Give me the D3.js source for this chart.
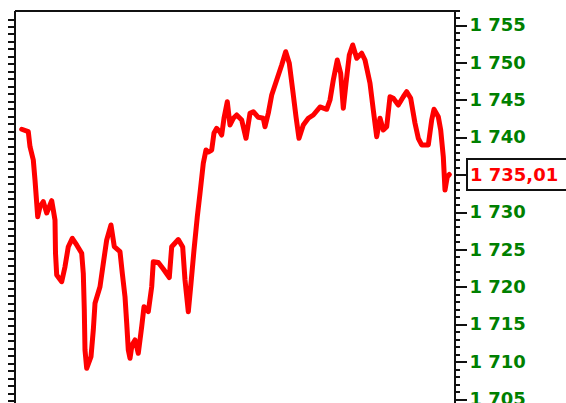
<!DOCTYPE html>
<html>
<head>
<meta charset="utf-8">
<script src="https://cdnjs.cloudflare.com/ajax/libs/d3/7.8.5/d3.min.js"></script>
<style>
  body { margin: 0; background: #fff; }
  svg { display: block; }
  .axis path, .axis line { stroke: #111; stroke-width: 2; shape-rendering: crispEdges; }
  .axis text { font-family: "DejaVu Sans", sans-serif; font-weight: bold; font-size: 18px; fill: #008000; }
</style>
</head>
<body>
<div id="chart"></div>
<script>
// Time of each reading (arbitrary session units)
var times = [0, 6.6, 8.3, 11.6, 13.3, 15, 16, 18.3, 21.6, 25, 30, 31.6, 33.3, 33.8, 35, 40, 43.3, 46.6, 50.6, 55,
  60, 61.6, 62.6, 63.3, 65, 69.3, 71.6, 73.3, 78.3, 81.6, 85, 89.3, 92.6, 98.3, 100.6, 103.3, 105, 106.6, 108.3, 110.3,
  113.3, 116.6, 120, 122.3, 126.6, 130, 131.6, 136.6, 141.6, 147.6, 150, 156.6, 161, 163.3, 166.6, 169.3, 172.3, 175.6, 178.3, 181.6,
  184.3, 186.6, 190, 192.3, 195, 198.3, 200, 202.3, 205.6, 208.3, 211.6, 215, 220, 224.3, 228.3, 231.6, 236.6, 241.6, 243.3, 246.6,
  250, 255, 260, 264, 267.6, 271, 274.3, 277.3, 281.6, 286.6, 291.6, 298.3, 305, 308.3, 311.6, 315.6, 319, 321.6, 324.3, 327.6,
  331, 335, 340, 343.3, 348.3, 351.6, 355, 358.3, 361.6, 365, 368.3, 371.6, 376.6, 381.6, 385, 389, 393.3, 396.6, 400, 406.6,
  410, 412.3, 416.6, 419, 421.6, 423.3, 425.6, 427.6];

// Price readings
var prices = [1741.06, 1740.74, 1738.73, 1736.95, 1734.28, 1731.20, 1729.37, 1730.71, 1731.38, 1729.87, 1731.51, 1730.27, 1728.93, 1724.52, 1721.58, 1720.68, 1722.69, 1725.36, 1726.48, 1725.59,
  1724.48, 1721.80, 1716.90, 1711.55, 1709.10, 1710.66, 1714.22, 1717.79, 1720.01, 1723.14, 1726.26, 1728.26, 1725.36, 1724.69, 1721.80, 1718.68, 1715.16, 1711.55, 1710.44, 1712.22,
  1712.89, 1711.11, 1714.67, 1717.34, 1716.67, 1720.01, 1723.36, 1723.25, 1722.38, 1721.24, 1725.36, 1726.32, 1725.32, 1720.91, 1716.67, 1720.47, 1724.92, 1729.37, 1732.50, 1736.51,
  1738.29, 1738.02, 1738.29, 1740.56, 1741.19, 1740.70, 1740.29, 1742.53, 1744.75, 1741.63, 1742.53, 1742.97, 1742.30, 1739.85, 1743.20, 1743.41, 1742.66, 1742.53, 1741.40, 1743.20,
  1745.64, 1747.65, 1749.65, 1751.43, 1749.88, 1746.31, 1742.74, 1739.85, 1741.63, 1742.53, 1742.97, 1744.04, 1743.73, 1744.97, 1747.65, 1750.32, 1748.54, 1743.86, 1747.21, 1750.99,
  1752.33, 1750.55, 1751.22, 1750.32, 1747.21, 1743.64, 1740.07, 1742.53, 1740.96, 1741.40, 1745.41, 1745.20, 1744.30, 1745.41, 1746.08, 1745.20, 1741.86, 1739.85, 1738.96, 1738.96,
  1742.30, 1743.73, 1742.74, 1740.96, 1737.39, 1732.94, 1734.72, 1735.01];

// Labelled ticks on the price axis
var majorTicks = [1705, 1710, 1715, 1720, 1725, 1730, 1735, 1740, 1745, 1750, 1755];
var minorTicks = d3.range(1704, 1758, 1);
// Left axis ticks (offset scale)
var leftTicks = d3.range(1755.8, 1703, -1);

var lastPrice = prices[prices.length - 1];

var svgWidth = 566;
var svgHeight = 403;

var plotLeft = 15;
var plotRight = 454.5;
var plotTop = 11;

var svg = d3.select("#chart")
  .append("svg")
  .attr("width", svgWidth)
  .attr("height", svgHeight);

// Scales
var xScale = d3.scaleLinear()
  .domain([0, 427.6])
  .range([21.7, 449.3]);

var yScale = d3.scaleLinear()
  .domain([1755, 1705])
  .range([25, 399]);

// Number format with space as thousands separator and comma decimal
var locale = d3.formatLocale({ decimal: ",", thousands: " ", grouping: [3], currency: ["", ""] });
var fmtInt = locale.format(",.0f");
var fmtDec = locale.format(",.2f");

// Top border
svg.append("line")
  .attr("x1", plotLeft)
  .attr("x2", plotRight)
  .attr("y1", plotTop)
  .attr("y2", plotTop)
  .attr("stroke", "#111")
  .attr("stroke-width", 2)
  .attr("shape-rendering", "crispEdges");

// Left axis
var leftAxis = svg.append("g")
  .attr("class", "axis")
  .attr("transform", `translate(${plotLeft}, 0)`)
  .call(d3.axisLeft(yScale).tickValues(leftTicks).tickSize(7).tickSizeOuter(0).tickFormat(""));
leftAxis.select(".domain").attr("d", `M0,${plotTop}V${svgHeight}`);

// Right axis - minor ticks
var rightMinor = svg.append("g")
  .attr("class", "axis")
  .attr("transform", `translate(${plotRight}, 0)`)
  .call(d3.axisRight(yScale).tickValues(minorTicks).tickSize(5).tickSizeOuter(0).tickFormat(""));
rightMinor.select(".domain").attr("d", `M0,${plotTop}V${svgHeight}`);

// Right axis - major ticks with labels (the one under the value box stays unlabelled)
var rightMajor = svg.append("g")
  .attr("class", "axis")
  .attr("transform", `translate(${plotRight}, 0)`)
  .call(d3.axisRight(yScale).tickValues(majorTicks).tickSize(12).tickPadding(3)
    .tickFormat(function(d) { return Math.abs(d - lastPrice) < 2.5 ? "" : fmtInt(d); }));
rightMajor.select(".domain").remove();

// Price line
var line = d3.line()
  .x(function(d, i) { return xScale(times[i]); })
  .y(function(d) { return yScale(d); });

svg.append("path")
  .datum(prices)
  .attr("d", line)
  .attr("fill", "none")
  .attr("stroke", "#ff0000")
  .attr("stroke-width", 5)
  .attr("stroke-linejoin", "round")
  .attr("stroke-linecap", "round");

// Current value box
var boxY = yScale(lastPrice);
svg.append("rect")
  .attr("x", plotRight + 12)
  .attr("y", boxY - 15.5)
  .attr("width", 110)
  .attr("height", 31)
  .attr("fill", "#fff")
  .attr("stroke", "#111")
  .attr("stroke-width", 2)
  .attr("shape-rendering", "crispEdges");

svg.append("text")
  .attr("x", plotRight + 15.5)
  .attr("y", boxY)
  .attr("dy", "0.36em")
  .attr("font-family", "DejaVu Sans, sans-serif")
  .attr("font-weight", "bold")
  .attr("font-size", "18px")
  .attr("fill", "#ff0000")
  .text(fmtDec(lastPrice));
</script>
</body>
</html>
